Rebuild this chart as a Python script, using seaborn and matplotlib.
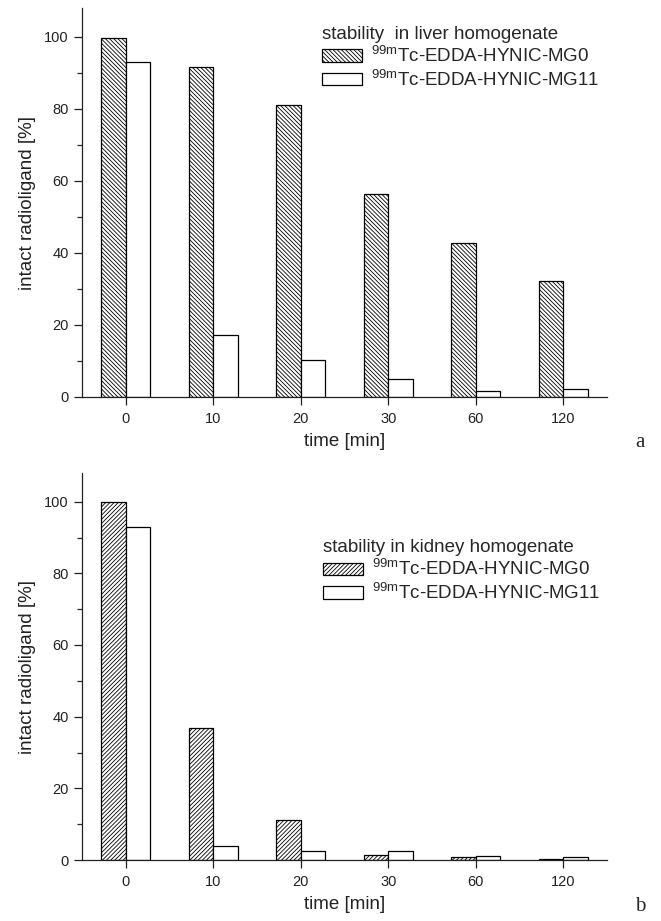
import matplotlib
matplotlib.use("Agg")
import matplotlib.pyplot as plt
from matplotlib.patches import Patch
from matplotlib.ticker import MultipleLocator
import seaborn as sns
import pandas as pd

# ---- data ----
times = ["0", "10", "20", "30", "60", "120"]
compounds = ["$^{\\mathregular{99m}}$Tc-EDDA-HYNIC-MG0",
             "$^{\\mathregular{99m}}$Tc-EDDA-HYNIC-MG11"]
liver_mg0 = [99.8, 91.6, 81.1, 56.4, 42.8, 32.3]
liver_mg11 = [92.9, 17.1, 10.3, 5.1, 1.7, 2.2]
kidney_mg0 = [99.8, 36.8, 11.1, 1.4, 0.8, 0.3]
kidney_mg11 = [92.8, 4.0, 2.6, 2.6, 1.2, 0.8]
liver_title = "stability  in liver homogenate"
kidney_title = "stability in kidney homogenate"

sns.set_style("ticks")
plt.rcParams['font.family'] = ['Liberation Sans', 'DejaVu Sans']
plt.rcParams['mathtext.fontset'] = 'custom'
plt.rcParams['mathtext.rm'] = 'Liberation Sans'
plt.rcParams['hatch.linewidth'] = 0.6
plt.rcParams['hatch.color'] = 'black'

W, H = 661, 921
fig = plt.figure(figsize=(W / 100, H / 100), dpi=100)

def make_ax(top, bottom):
    left, right = 82, 607
    return fig.add_axes([left / W, 1 - bottom / H, (right - left) / W, (bottom - top) / H])

def panel(ax, v0, v1, hatch, title, leg_anchor):
    df = pd.DataFrame({
        "time": times * 2,
        "value": v0 + v1,
        "compound": [compounds[0]] * len(times) + [compounds[1]] * len(times),
    })
    sns.barplot(data=df, x="time", y="value", hue="compound", order=times,
                hue_order=compounds, palette=["white", "white"], width=0.56,
                gap=0, edgecolor="black", linewidth=0.9, saturation=1,
                legend=False, ax=ax)
    for p in ax.containers[0].patches:
        p.set_hatch(hatch)
    ax.set_xlim(-0.5, 5.5)
    ax.set_ylim(0, 108)
    ax.yaxis.set_major_locator(MultipleLocator(20))
    ax.yaxis.set_minor_locator(MultipleLocator(10))
    ax.set_ylabel("intact radioligand [%]", fontsize=13.5, color="#222222", labelpad=6)
    ax.set_xlabel("time [min]", fontsize=13.5, color="#222222", labelpad=5)
    ax.tick_params(axis="both", which="major", length=6, width=0.9,
                   labelsize=10.5, direction="out", colors="#222222")
    ax.tick_params(axis="y", which="minor", length=3.5, width=0.9, direction="out")
    ax.tick_params(axis="x", which="major", pad=5)
    for s in ["top", "right"]:
        ax.spines[s].set_visible(False)
    for s in ["left", "bottom"]:
        ax.spines[s].set_linewidth(0.9)
        ax.spines[s].set_color("#222222")
    handles = [Patch(facecolor="white", edgecolor="black", linewidth=0.9, hatch=hatch),
               Patch(facecolor="white", edgecolor="black", linewidth=0.9)]
    ax.legend(handles, compounds, title=title, loc="upper left",
              bbox_to_anchor=leg_anchor, frameon=False, fontsize=13.5,
              title_fontsize=13.5, handlelength=2.15, handleheight=0.65,
              handletextpad=0.45, labelspacing=0.15, borderpad=0,
              borderaxespad=0, alignment="left")

ax1 = make_ax(8, 397)
panel(ax1, liver_mg0, liver_mg11, "\\\\\\\\\\\\\\\\", liver_title, (0.457, 0.955))
ax2 = make_ax(473, 860)
panel(ax2, kidney_mg0, kidney_mg11, "////////", kidney_title, (0.459, 0.83))

fig.text(640 / W, 1 - 442 / H, "a", family="Liberation Serif", fontsize=15,
         ha="center", va="center")
fig.text(640 / W, 1 - 906 / H, "b", family="Liberation Serif", fontsize=15,
         ha="center", va="center")

fig.savefig("out.png", dpi=100)
